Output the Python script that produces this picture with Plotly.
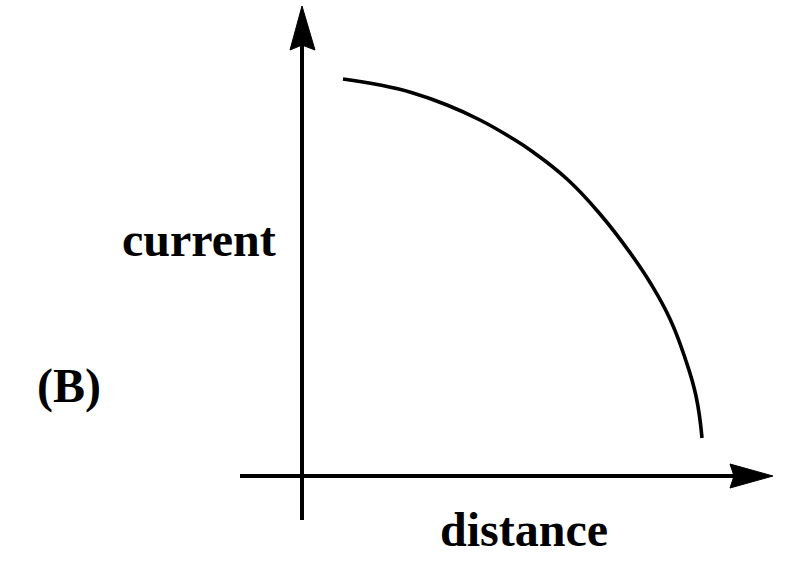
import plotly.graph_objects as go

# Schematic data (units = offset from axis origin)
distance = [41, 78, 111, 145, 178, 208, 231, 265, 298, 329, 349, 368, 383, 394, 400]
current = [397, 391, 383, 371, 356, 339, 324, 297, 262, 222, 192, 157, 118, 80, 38]

label_x = "distance"
label_y = "current"
panel_label = "(B)"

W, H = 809, 577
ox, oy = 302, 476  # pixel position of the origin

fig = go.Figure()
fig.add_trace(go.Scatter(x=distance, y=current, mode="lines",
                         line=dict(color="black", width=3.6, shape="spline", smoothing=1.3),
                         hoverinfo="skip", showlegend=False))

lw = 4
shapes = [
    # y axis line
    dict(type="line", x0=0, x1=0, y0=-44, y1=432, line=dict(color="black", width=lw)),
    # x axis line
    dict(type="line", x0=-62, x1=432, y0=0, y1=0, line=dict(color="black", width=lw)),
    # y arrowhead
    dict(type="path", path="M 0 470 L -12 426 L 0 431 L 13 426 Z",
         fillcolor="black", line=dict(color="black", width=1)),
    # x arrowhead
    dict(type="path", path="M 471 0 L 428 12 L 432 0 L 428 -12 Z",
         fillcolor="black", line=dict(color="black", width=1)),
]

font = dict(family="Liberation Serif", size=48, color="black")
annotations = [
    dict(x=-103, y=237, text="<b>%s</b>" % label_y, showarrow=False, font=font,
         xanchor="center", yanchor="middle"),
    dict(x=222, y=-53, text="<b>%s</b>" % label_x, showarrow=False, font=font,
         xanchor="center", yanchor="middle"),
    dict(x=-233, y=90, text="<b>%s</b>" % panel_label, showarrow=False, font=font,
         xanchor="center", yanchor="middle"),
]

fig.update_layout(
    width=W, height=H,
    margin=dict(l=0, r=0, t=0, b=0),
    paper_bgcolor="white", plot_bgcolor="white",
    xaxis=dict(range=[-ox, W - ox], visible=False, fixedrange=True),
    yaxis=dict(range=[oy - H, oy], visible=False, fixedrange=True),
    shapes=shapes, annotations=annotations,
    showlegend=False,
)

fig.write_html("out.html", config={"displayModeBar": False},
               post_script="document.body.style.margin='0';document.body.style.overflow='hidden';")
